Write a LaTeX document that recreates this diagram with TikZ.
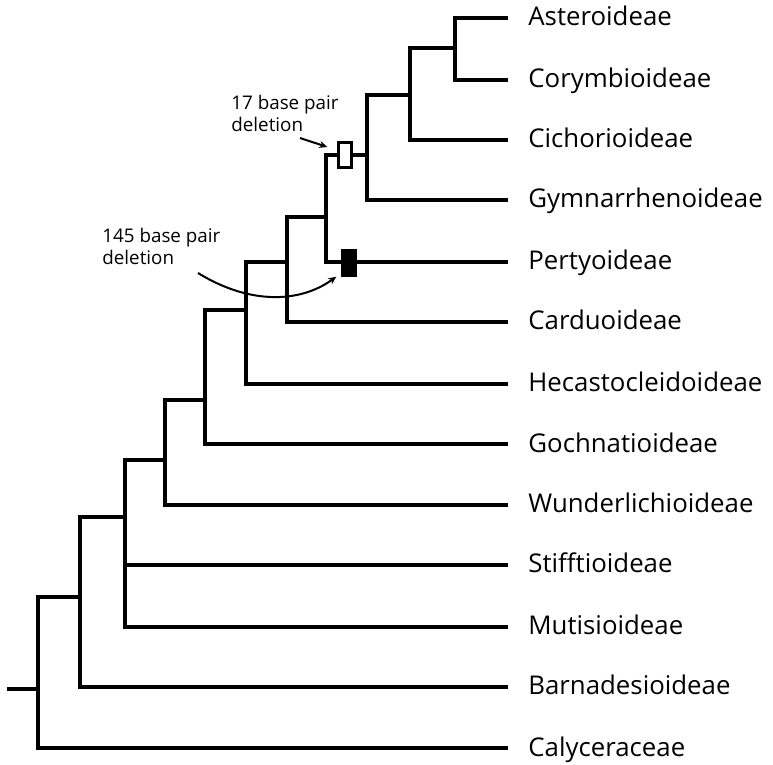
\documentclass[tikz,border=0pt]{standalone}
\usepackage{fontspec}
\setmainfont{Open Sans}
\usetikzlibrary{arrows.meta, calc}

\begin{document}
\begin{tikzpicture}[x=0.5pt, y=-0.5pt,
    branch/.style={line width=1.6pt},
    taxon/.style={anchor=base west, inner sep=0pt, xshift=10pt, yshift=-4pt,
                  font=\fontsize{12.9}{15}\selectfont},
    note/.style={anchor=north west, inner sep=0pt, align=left,
                 font=\fontsize{9.4}{11}\selectfont},
    delbox/.style={draw, line width=1.2pt, minimum width=6.5pt, minimum height=12.5pt, inner sep=0pt},
    pointer/.style={line width=1pt, -{Stealth[length=4pt, width=3.5pt]}}
]
    \useasboundingbox (0,0) rectangle (773,765);

    \foreach \n/\y/\t in {ast/18/Asteroideae, cor/80/Corymbioideae, cic/140/Cichorioideae,
        gym/200/Gymnarrhenoideae, per/262/Pertyoideae, car/322/Carduoideae,
        hec/384/Hecastocleidoideae, goc/444/Gochnatioideae, wun/505/Wunderlichioideae,
        sti/565/Stifftioideae, mut/627/Mutisioideae, bar/687/Barnadesioideae,
        cal/748/Calyceraceae} {
        \coordinate (\n) at (508,\y);
        \node[taxon] (\n-lbl) at (\n) {\t};
    }

    \foreach \n/\x/\y in {n1/455/48, n2/410/95, n3/367/155, n4/326/217, n5/287/262,
        n6/246/310, n7/205/400, n8/165/460, n9/125/517, n10/80/597, n11/38/689}
        \coordinate (\n) at (\x,\y);
    \coordinate (root) at (7,689);

    \foreach \p/\c in {n1/ast, n1/cor, n2/n1, n2/cic, n3/n2, n3/gym, n4/n3, n4/per,
        n5/n4, n5/car, n6/n5, n6/hec, n7/n6, n7/goc, n8/n7, n8/wun, n9/n8, n9/sti,
        n9/mut, n10/n9, n10/bar, n11/n10, n11/cal}
        \draw[branch] (\p) |- (\c);
    \draw[branch] (root) -- (n11);

    \node[delbox, fill=white] (del17) at (345,155) {};
    \node[delbox, fill=black] (del145) at (349,263) {};

    \node[note] (note17) at (231,95) {17 base pair\\deletion};
    \node[note] (note145) at (102,228) {145 base pair\\deletion};

    \coordinate (tail17) at (300,138);
    \coordinate (tail145) at (198,273);
    \draw[pointer] (tail17) -- ([shift={(-10,-8)}]del17.west);
    \draw[pointer] (tail145) .. controls (250,305) and (300,303) .. ([shift={(-5,0)}]del145.south west);
\end{tikzpicture}
\end{document}
